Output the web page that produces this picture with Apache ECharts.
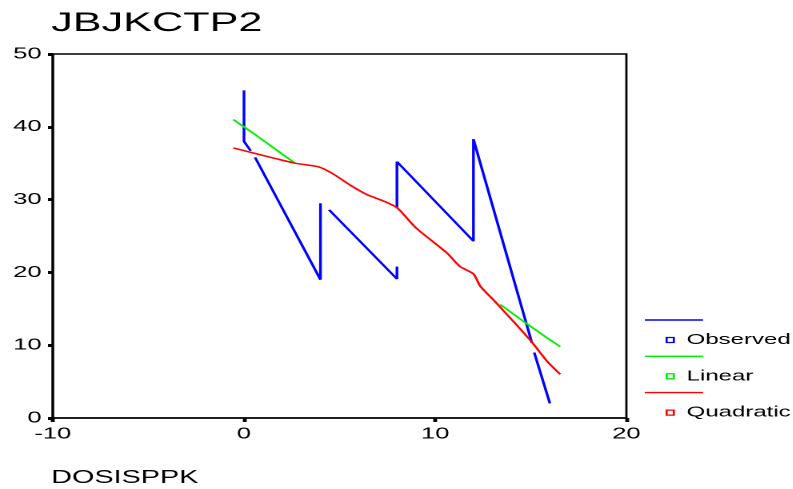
<!DOCTYPE html>
<html>
<head>
<meta charset="utf-8">
<script src="https://cdn.jsdelivr.net/npm/echarts@6/dist/echarts.min.js"></script>
<style>
  html, body { margin: 0; padding: 0; background: #fff; overflow: hidden; }
  /* the original picture is stretched sideways, so the chart is drawn narrow and widened */
  #main { width: 496px; height: 489px; transform: scaleX(1.6); transform-origin: 0 0; }
</style>
</head>
<body>
<div id="main"></div>
<script>
// observed values, null = break in the line
var obsX = [0, 0, 0.35, null, 0.58, 4, 4, null, 4.45, 8, 8, null, 8, 8, 12, 12, 15.06, null, 15.18, 16];
var obsY = [45, 38, 36.7, null, 35.8, 19, 29.5, null, 28.6, 19.1, 20.8, null, 28.8, 35.2, 24.3, 38.3, 10.3, null, 9.0, 2.0];

// linear fit (only visible at both ends, the middle is hidden under the quadratic)
var linX = [-0.56, 0.6, 1.71, 2.67, null, 13.4, 14.6, 15.85, 16.54];
var linY = [41.0, 38.9, 36.8, 35.0, null, 15.6, 13.3, 11.0, 9.8];

// quadratic fit
var quadX = [-0.56, 0.49, 1.71, 2.67, 3.9, 4.68, 5.55, 6.42, 7.3, 8.0, 9.0, 10.6, 11.3, 12.0, 12.36, 13.2, 14.97, 15.85, 16.54];
var quadY = [37.1, 36.4, 35.6, 35.0, 34.5, 33.5, 32.0, 30.7, 29.8, 28.9, 26.1, 22.7, 20.8, 19.8, 18.1, 15.8, 10.7, 7.8, 6.0];

var seriesNames = ['Observed', 'Linear', 'Quadratic'];
var seriesColors = ['#0000ff', '#00ee00', '#ff0000'];
var xTicks = [-10, 20, 10];
var yTicks = [0, 50, 10];

function pairs(xs, ys) {
  return xs.map(function (x, i) {
    return (x === null || ys[i] === null) ? ['-', '-'] : [x, ys[i]];
  });
}

var font = 'Liberation Sans, Arial, sans-serif';

var chart = echarts.init(document.getElementById('main'), null, { devicePixelRatio: 2 });

var legends = seriesNames.map(function (name, i) {
  return {
    selectedMode: false,
    left: 411,
    top: 327.5 + i * 36.3,
    itemWidth: 4.5,
    itemHeight: 5,
    data: [{
      name: name,
      icon: 'rect',
      itemStyle: { color: '#fff', borderColor: seriesColors[i], borderWidth: 1.3 }
    }],
    textStyle: { fontFamily: font, fontSize: 15, color: '#000', lineHeight: 15, padding: [0, 0, 0, 3] }
  };
});

var legendLines = seriesColors.map(function (c, i) {
  return {
    type: 'line',
    shape: { x1: 403, y1: 320 + i * 36.3, x2: 439.4, y2: 320 + i * 36.3 },
    style: { stroke: c, lineWidth: 1.4 }
  };
});

var option = {
  animation: false,
  backgroundColor: '#fff',
  title: [
    {
      text: 'JBJKCTP2',
      left: 32,
      top: 10,
      padding: 0,
      textStyle: { fontFamily: font, fontSize: 27, fontWeight: 'normal', color: '#000' }
    },
    {
      text: 'DOSISPPK',
      left: 32,
      top: 469,
      padding: 0,
      textStyle: { fontFamily: font, fontSize: 18, fontWeight: 'normal', color: '#000' }
    }
  ],
  legend: legends,
  graphic: legendLines,
  grid: {
    left: 33, right: 104.5, top: 54, bottom: 71,
    show: true, borderColor: '#000', borderWidth: 1.4
  },
  xAxis: {
    type: 'value',
    min: xTicks[0], max: xTicks[1], interval: xTicks[2],
    axisLine: { show: true, onZero: false, lineStyle: { color: '#000', width: 1.6 } },
    axisTick: { show: true, length: 4, lineStyle: { color: '#000', width: 2.4 } },
    axisLabel: { fontFamily: font, fontSize: 16, color: '#000', margin: 8 },
    splitLine: { show: false }
  },
  yAxis: {
    type: 'value',
    min: yTicks[0], max: yTicks[1], interval: yTicks[2],
    axisLine: { show: true, onZero: false, lineStyle: { color: '#000', width: 1.6 } },
    axisTick: { show: true, length: 3, lineStyle: { color: '#000', width: 3 } },
    axisLabel: { fontFamily: font, fontSize: 16, color: '#000', margin: 7 },
    splitLine: { show: false }
  },
  series: [
    {
      name: seriesNames[0], type: 'line', symbol: 'none', connectNulls: false,
      lineStyle: { color: seriesColors[0], width: 1.7 },
      itemStyle: { color: seriesColors[0] },
      data: pairs(obsX, obsY), z: 2
    },
    {
      name: seriesNames[1], type: 'line', symbol: 'none', connectNulls: false,
      lineStyle: { color: seriesColors[1], width: 1.5 },
      itemStyle: { color: seriesColors[1] },
      data: pairs(linX, linY), z: 3
    },
    {
      name: seriesNames[2], type: 'line', symbol: 'none', smooth: 0.2,
      lineStyle: { color: seriesColors[2], width: 1.5 },
      itemStyle: { color: seriesColors[2] },
      data: pairs(quadX, quadY), z: 4
    }
  ]
};

chart.setOption(option);
</script>
</body>
</html>
